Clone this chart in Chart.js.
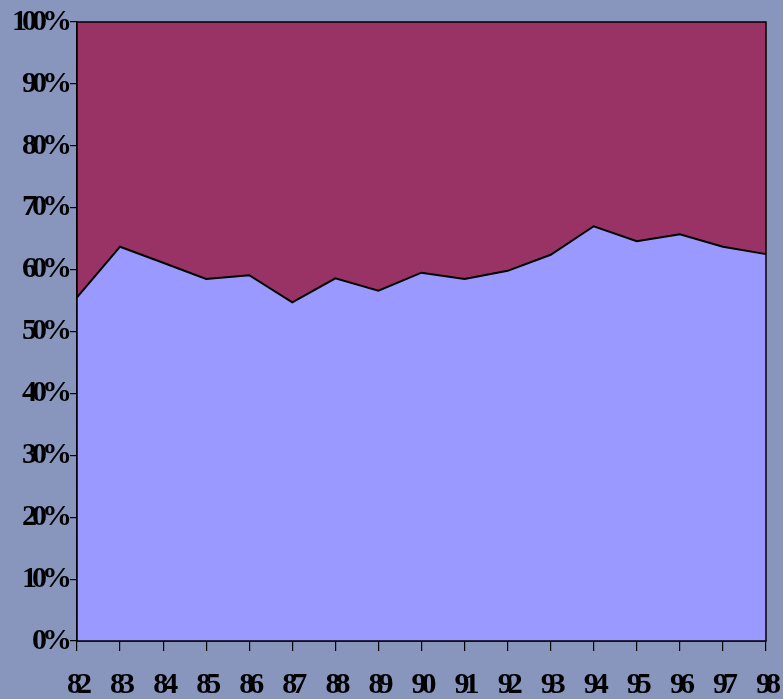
<!DOCTYPE html>
<html>
<head>
<meta charset="utf-8">
<script src="https://cdn.jsdelivr.net/npm/chart.js@4/dist/chart.umd.min.js"></script>
<style>
  html, body { margin: 0; padding: 0; background: #8896be; }
  #wrap { width: 783px; height: 699px; position: relative; }
</style>
</head>
<body>
<div id="wrap"><canvas id="shareChart"></canvas></div>
<script>
// years on the x axis
const years = ['82', '83', '84', '85', '86', '87', '88', '89', '90', '91', '92', '93', '94', '95', '96', '97', '98'];
// lower (lavender) share, percent
const lowerShare = [55.5, 63.7, 61.1, 58.5, 59.1, 54.7, 58.6, 56.6, 59.5, 58.5, 59.8, 62.4, 67.0, 64.6, 65.7, 63.7, 62.5];
// upper (maroon) share, percent
const upperShare = [44.5, 36.3, 38.9, 41.5, 40.9, 45.3, 41.4, 43.4, 40.5, 41.5, 40.2, 37.6, 33.0, 35.4, 34.3, 36.3, 37.5];

const tickFont = { family: "'Liberation Serif', 'Times New Roman', serif", size: 30, weight: 'bold' };

// squeeze the digits together like the original
const tightText = {
  id: 'tightText',
  beforeLayout(chart) { chart.ctx.letterSpacing = '-5px'; },
  beforeDraw(chart) { chart.ctx.letterSpacing = '-5px'; }
};

// black frame round the plot
const frame = {
  id: 'frame',
  afterDatasetsDraw(chart) {
    const { ctx, chartArea: a } = chart;
    ctx.save();
    ctx.strokeStyle = '#000';
    ctx.lineWidth = 1.5;
    ctx.strokeRect(a.left, a.top, a.right - a.left, a.bottom - a.top);
    ctx.restore();
  }
};

new Chart(document.getElementById('shareChart'), {
  type: 'line',
  data: {
    labels: years,
    datasets: [
      {
        data: lowerShare,
        fill: 'origin',
        backgroundColor: '#9999ff',
        borderColor: '#000',
        borderWidth: 2,
        pointRadius: 0,
        tension: 0
      },
      {
        data: upperShare,
        fill: '-1',
        backgroundColor: '#993366',
        borderWidth: 0,
        pointRadius: 0,
        tension: 0
      }
    ]
  },
  options: {
    responsive: true,
    maintainAspectRatio: false,
    animation: false,
    layout: { padding: { top: 22, right: 17, left: 0, bottom: 0 } },
    plugins: { legend: { display: false }, tooltip: { enabled: false } },
    scales: {
      x: {
        offset: false,
        grid: { drawOnChartArea: false, color: '#000', tickLength: 10, lineWidth: 1.2 },
        border: { color: '#000', width: 1.5 },
        ticks: { color: '#000', font: tickFont, maxRotation: 0, autoSkip: false, padding: 16 },
        afterFit(s) { s.height = 58; s.paddingLeft = 0; s.paddingRight = 0; }
      },
      y: {
        stacked: true,
        min: 0,
        max: 100,
        grid: { drawOnChartArea: false, color: '#000', tickLength: 7, lineWidth: 1.2 },
        border: { color: '#000', width: 1.5 },
        ticks: {
          color: '#000', font: tickFont, stepSize: 10, padding: 3,
          callback: v => v + '%'
        },
        afterFit(s) { s.width = 77; s.paddingTop = 0; s.paddingBottom = 0; }
      }
    }
  },
  plugins: [tightText, frame]
});
</script>
</body>
</html>
